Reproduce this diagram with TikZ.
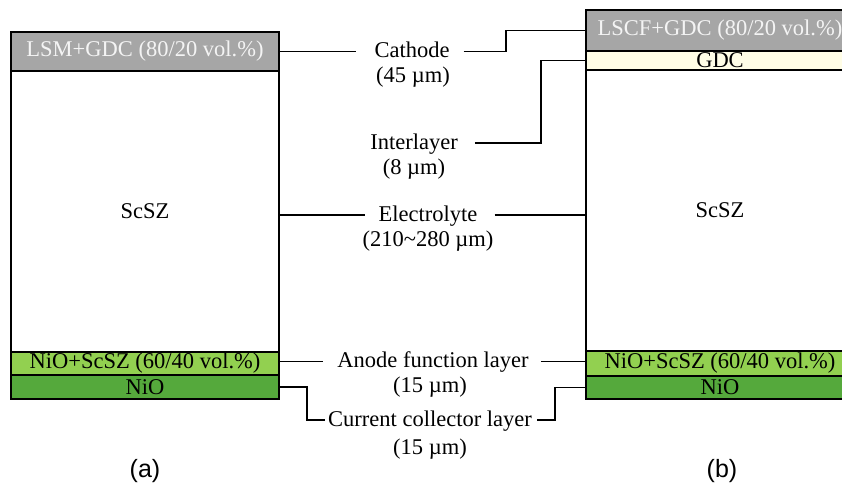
\documentclass[tikz,border=0pt]{standalone}
\usepackage{fontspec}
\setmainfont{Liberation Serif}
\newfontfamily\capfont{Liberation Sans}
\definecolor{cathgray}{HTML}{A6A6A6}
\definecolor{cathtext}{HTML}{F4F4F4}
\definecolor{gdcyellow}{HTML}{FFFDE6}
\definecolor{lgreen}{HTML}{92D050}
\definecolor{dgreen}{HTML}{55A93C}
\begin{document}
\begin{tikzpicture}[x=1pt,y=-1pt,
  font=\fontsize{22.5}{25}\selectfont,
  layer/.style={draw=black, line width=1.6pt, inner sep=0pt, outer sep=0pt,
    minimum width=268pt, anchor=north west},
  lbl/.style={anchor=base, inner sep=0pt, text height=17pt, text depth=5pt},
  conn/.style={line width=1.3pt},
  capt/.style={anchor=base, inner sep=0pt, font=\capfont\fontsize{25}{28}\selectfont}]
\useasboundingbox (0,0) rectangle (842,483);
\clip (0,0) rectangle (842,483);
\fill[white] (0,0) rectangle (842,483);

% left cell (a)
\node[layer, fill=cathgray, text=cathtext, minimum height=39pt] (cathA) at (11,32) {LSM+GDC (80/20 vol.\%)};
\node[layer, fill=white, minimum height=281pt] (elA) at (11,71) {ScSZ};
\node[layer, fill=lgreen, minimum height=23pt] (anA) at (11,352) {NiO+ScSZ (60/40 vol.\%)};
\node[layer, fill=dgreen, minimum height=24pt] (ccA) at (11,375) {NiO};

% right cell (b)
\node[layer, fill=cathgray, text=cathtext, minimum height=41pt] (cathB) at (586,10) {LSCF+GDC (80/20 vol.\%)};
\node[layer, fill=gdcyellow, minimum height=19pt] (gdcB) at (586,51) {GDC};
\node[layer, fill=white, minimum height=281pt] (elB) at (586,70) {ScSZ};
\node[layer, fill=lgreen, minimum height=25pt] (anB) at (586,351) {NiO+ScSZ (60/40 vol.\%)};
\node[layer, fill=dgreen, minimum height=23pt] (ccB) at (586,376) {NiO};

% labels
\node[lbl] (cathT) at (412,57.5) {Cathode};
\node[lbl] (cathM) at (413,82.5) {(45 µm)};
\node[lbl] (intT) at (414,149) {Interlayer};
\node[lbl] (intM) at (414,174) {(8 µm)};
\node[lbl] (elT) at (428,221) {Electrolyte};
\node[lbl] (elM) at (428,246.5) {(210\textasciitilde 280 µm)};
\node[lbl] (anT) at (433,367.5) {Anode function layer};
\node[lbl] (anM) at (430,392.5) {(15 µm)};
\node[lbl] (ccT) at (430,426) {Current collector layer};
\node[lbl] (ccM) at (430,454) {(15 µm)};

\node[capt] (capA) at (145,477) {(a)};
\node[capt] (capB) at (722,477) {(b)};

% bend points
\coordinate (cathK) at (506,0);
\coordinate (intK) at (541,0);
\coordinate (ccK1) at (307,0);
\coordinate (ccK2) at (555,0);

% connectors
\draw[conn] (cathA.east |- cathT.west) -- ([xshift=-18pt]cathT.west);
\draw[conn] ([xshift=14pt]cathT.east) -- (cathK |- cathT.east) |- (cathB.west);
\draw[conn] ([xshift=17pt]intT.east) -- (intK |- intT.east) |- (gdcB.west);
\draw[conn] (elA.east |- elT.west) -- ([xshift=-13pt]elT.west);
\draw[conn] ([xshift=17pt]elT.east) -- (elT.east -| elB.west);
\draw[conn] (anA.east |- anT.west) -- ([xshift=-14pt]anT.west);
\draw[conn] ([xshift=12pt]anT.east) -- (anT.east -| anB.west);
\draw[conn] (ccA.east) -- (ccK1 |- ccA.east) |- ([xshift=-3pt]ccT.west);
\draw[conn] ([xshift=5pt]ccT.east) -- (ccK2 |- ccT.east) |- (ccB.west);
\end{tikzpicture}
\end{document}
